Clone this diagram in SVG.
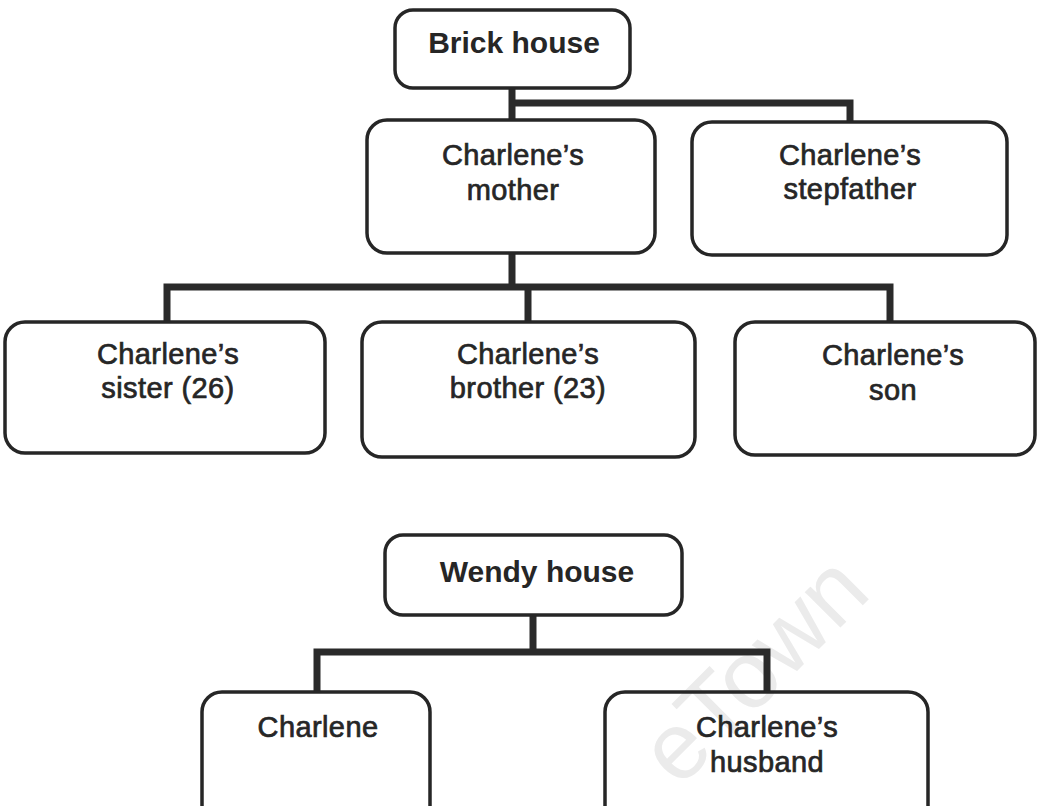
<svg xmlns="http://www.w3.org/2000/svg" width="1037" height="806" viewBox="0 0 1037 806">
<style>
.box{fill:none;stroke:#262626;stroke-width:3.5}
.conn{fill:none;stroke:#2a2a2a;stroke-width:7;stroke-linejoin:miter;stroke-linecap:butt}
.t{font-family:"Liberation Sans",Arial,sans-serif;font-size:29px;fill:#262626;stroke:#262626;stroke-width:0.7;text-anchor:middle;letter-spacing:0.4px}
.tb{font-family:"Liberation Sans",Arial,sans-serif;font-size:30px;font-weight:bold;fill:#262626;text-anchor:middle}
.wm{font-family:"Liberation Sans",Arial,sans-serif;font-size:95px;fill:#ebebeb}
</style>
<rect width="1037" height="806" fill="#ffffff"/>
<text class="wm" x="679" y="789" transform="rotate(-45 679 789)">eTown</text>
<g id="connectors">
<path class="conn" d="M512,88 V120 M512,103 H850 V122"/>
<path class="conn" d="M512,253 V287 M167,322 V287 H890 V322 M528,287 V322"/>
<path class="conn" d="M533,615 V652 M317,692 V652 H767 V692"/>
</g>
<g id="brick-house">
<rect class="box" x="395" y="10" width="235" height="78" rx="18"/>
<text class="tb" x="514" y="53">Brick house</text>
</g>
<g id="mother">
<rect class="box" x="367" y="120" width="288" height="133" rx="20"/>
<text class="t" x="513" y="165">Charlene’s</text>
<text class="t" x="513" y="200">mother</text>
</g>
<g id="stepfather">
<rect class="box" x="692" y="122" width="315" height="133" rx="20"/>
<text class="t" x="850" y="165">Charlene’s</text>
<text class="t" x="850" y="199">stepfather</text>
</g>
<g id="sister">
<rect class="box" x="5" y="322" width="320" height="131" rx="20"/>
<text class="t" x="168" y="364">Charlene’s</text>
<text class="t" x="168" y="398">sister (26)</text>
</g>
<g id="brother">
<rect class="box" x="362" y="322" width="333" height="135" rx="20"/>
<text class="t" x="528" y="364">Charlene’s</text>
<text class="t" x="528" y="398">brother (23)</text>
</g>
<g id="son">
<rect class="box" x="735" y="322" width="300" height="133" rx="20"/>
<text class="t" x="893" y="365">Charlene’s</text>
<text class="t" x="893" y="400">son</text>
</g>
<g id="wendy-house">
<rect class="box" x="385" y="535" width="297" height="80" rx="18"/>
<text class="tb" x="537" y="582">Wendy house</text>
</g>
<g id="charlene">
<rect class="box" x="202" y="692" width="228" height="140" rx="20"/>
<text class="t" x="318" y="737">Charlene</text>
</g>
<g id="husband">
<rect class="box" x="605" y="692" width="323" height="140" rx="20"/>
<text class="t" x="767" y="737">Charlene’s</text>
<text class="t" x="767" y="772">husband</text>
</g>
</svg>
